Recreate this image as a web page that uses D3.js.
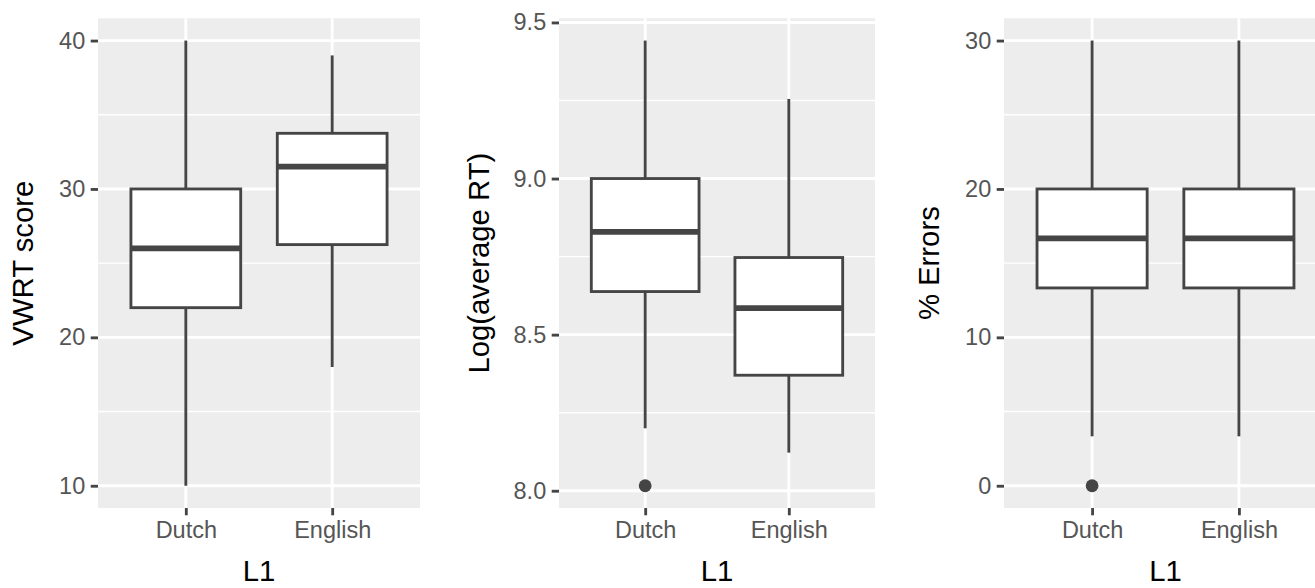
<!DOCTYPE html>
<html>
<head>
<meta charset="utf-8">
<script src="https://cdn.jsdelivr.net/npm/d3@7"></script>
<style>
  body { margin: 0; background: white; }
  svg { display: block; font-family: "Liberation Sans", Arial, sans-serif; }
</style>
</head>
<body>
<script>
// groups on the x axis
const groups = ["Dutch", "English"];

// box stats: [lower whisker, q1, median, q3, upper whisker]
const vwrtDutch = [10, 22, 26, 30, 40];
const vwrtEnglish = [18, 26.25, 31.5, 33.75, 39];
const rtDutch = [8.20, 8.638, 8.829, 9.0, 9.442];
const rtEnglish = [8.122, 8.370, 8.585, 8.747, 9.255];
const errDutch = [3.33, 13.33, 16.67, 20, 30];
const errEnglish = [3.33, 13.33, 16.67, 20, 30];

// outliers
const vwrtOutliers = [];
const rtOutliers = [{group: "Dutch", value: 8.016}];
const errOutliers = [{group: "Dutch", value: 0}];

// tick labels
const vwrtTicks = [10, 20, 30, 40];
const rtTicks = [8.0, 8.5, 9.0, 9.5];
const errTicks = [0, 10, 20, 30];

function main(){
    const width = 1315;
    const height = 588;
    const top = 18.3;
    const bottom = 508;
    const ink = "#454545";

    const svg = d3.select("body").append("svg")
        .attr("width", width)
        .attr("height", height);

    function drawPanel(opt){
        const g = svg.append("g");

        //domain like ggplot: data range plus 5% each side
        const all = opt.boxes.flat().concat(opt.outliers.map(d => d.value));
        const lo = d3.min(all), hi = d3.max(all);
        const pad = (hi - lo) * 0.05;

        const yScale = d3.scaleLinear().domain([lo - pad, hi + pad]).range([bottom, top]);
        const xScale = d3.scalePoint().domain(groups).range([opt.left, opt.right]).padding(0.6);
        const step = xScale.step();

        // panel background
        g.append("rect")
            .attr("x", opt.left)
            .attr("y", top)
            .attr("width", opt.right - opt.left)
            .attr("height", bottom - top)
            .attr("fill", "#EDEDED");

        // minor grid at midpoints
        const minor = [];
        for (let i = 0; i < opt.ticks.length + 1; i++) {
            const a = i === 0 ? 2 * opt.ticks[0] - opt.ticks[1] : opt.ticks[i - 1];
            const b = i === opt.ticks.length ? 2 * opt.ticks[i - 1] - opt.ticks[i - 2] : opt.ticks[i];
            const m = (a + b) / 2;
            if (m > yScale.domain()[0] && m < yScale.domain()[1]) minor.push(m);
        }
        g.selectAll(".minor")
            .data(minor)
            .enter().append("line")
            .attr("x1", opt.left).attr("x2", opt.right)
            .attr("y1", d => yScale(d)).attr("y2", d => yScale(d))
            .attr("stroke", "white")
            .attr("stroke-width", 1.4);

        // major grid
        g.selectAll(".major")
            .data(opt.ticks)
            .enter().append("line")
            .attr("x1", opt.left).attr("x2", opt.right)
            .attr("y1", d => yScale(d)).attr("y2", d => yScale(d))
            .attr("stroke", "white")
            .attr("stroke-width", 2.85);

        g.selectAll(".vmajor")
            .data(groups)
            .enter().append("line")
            .attr("x1", d => xScale(d)).attr("x2", d => xScale(d))
            .attr("y1", top).attr("y2", bottom)
            .attr("stroke", "white")
            .attr("stroke-width", 2.85);

        // boxplots
        const boxW = step * 0.75;
        const box = g.selectAll(".box")
            .data(groups.map((k, i) => ({group: k, s: opt.boxes[i]})))
            .enter().append("g");

        box.append("line")
            .attr("x1", d => xScale(d.group)).attr("x2", d => xScale(d.group))
            .attr("y1", d => yScale(d.s[0])).attr("y2", d => yScale(d.s[1]))
            .attr("stroke", ink).attr("stroke-width", 2.85);
        box.append("line")
            .attr("x1", d => xScale(d.group)).attr("x2", d => xScale(d.group))
            .attr("y1", d => yScale(d.s[3])).attr("y2", d => yScale(d.s[4]))
            .attr("stroke", ink).attr("stroke-width", 2.85);
        box.append("rect")
            .attr("x", d => xScale(d.group) - boxW / 2)
            .attr("y", d => yScale(d.s[3]))
            .attr("width", boxW)
            .attr("height", d => yScale(d.s[1]) - yScale(d.s[3]))
            .attr("fill", "white")
            .attr("stroke", ink).attr("stroke-width", 2.85);
        box.append("line")
            .attr("x1", d => xScale(d.group) - boxW / 2).attr("x2", d => xScale(d.group) + boxW / 2)
            .attr("y1", d => yScale(d.s[2])).attr("y2", d => yScale(d.s[2]))
            .attr("stroke", ink).attr("stroke-width", 5.7);

        g.selectAll(".outlier")
            .data(opt.outliers)
            .enter().append("circle")
            .attr("cx", d => xScale(d.group))
            .attr("cy", d => yScale(d.value))
            .attr("r", 6.4)
            .attr("fill", ink);

        // axes
        const yAxis = g.append("g")
            .attr("transform", "translate(" + opt.left + ",0)")
            .call(d3.axisLeft(yScale).tickValues(opt.ticks).tickFormat(opt.format)
                .tickSizeOuter(0).tickSize(7.3).tickPadding(5.5));
        const xAxis = g.append("g")
            .attr("transform", "translate(0," + bottom + ")")
            .call(d3.axisBottom(xScale).tickSizeOuter(0).tickSize(7.3).tickPadding(6));

        [yAxis, xAxis].forEach(ax => {
            ax.select(".domain").remove();
            ax.selectAll(".tick line").attr("stroke", ink).attr("stroke-width", 2.85);
            ax.selectAll(".tick text")
                .attr("fill", "#555555")
                .attr("font-size", "23.5px")
                .attr("font-family", "Liberation Sans, Arial, sans-serif");
        });

        // axis titles
        g.append("text")
            .attr("transform", "translate(" + opt.titleX + "," + (top + bottom) / 2 + ") rotate(-90)")
            .attr("text-anchor", "middle")
            .attr("font-size", "29.3px")
            .attr("fill", "black")
            .text(opt.title);

        g.append("text")
            .attr("x", (opt.left + opt.right) / 2)
            .attr("y", 581)
            .attr("text-anchor", "middle")
            .attr("font-size", "29.3px")
            .attr("fill", "black")
            .text("L1");
    }

    drawPanel({left: 98, right: 420, boxes: [vwrtDutch, vwrtEnglish], outliers: vwrtOutliers,
        ticks: vwrtTicks, format: d3.format("d"), title: "VWRT score", titleX: 33.3});
    drawPanel({left: 559, right: 875, boxes: [rtDutch, rtEnglish], outliers: rtOutliers,
        ticks: rtTicks, format: d3.format(".1f"), title: "Log(average RT)", titleX: 489});
    drawPanel({left: 1004, right: 1327, boxes: [errDutch, errEnglish], outliers: errOutliers,
        ticks: errTicks, format: d3.format("d"), title: "% Errors", titleX: 939});
}
main();
</script>
</body>
</html>
